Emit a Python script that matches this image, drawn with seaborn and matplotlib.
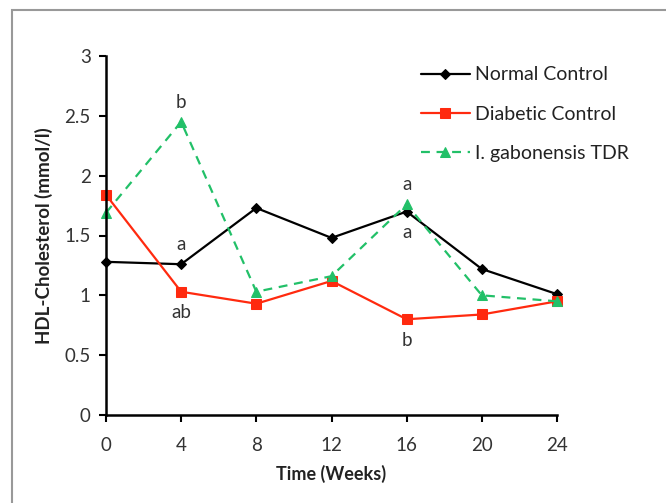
import matplotlib
matplotlib.use("Agg")
import matplotlib.pyplot as plt
import seaborn as sns
import pandas as pd
from matplotlib.patches import Rectangle

weeks = [0, 4, 8, 12, 16, 20, 24]
normal_control = [1.28, 1.26, 1.73, 1.48, 1.70, 1.22, 1.01]
diabetic_control = [1.84, 1.03, 0.93, 1.12, 0.80, 0.84, 0.95]
gabonensis_tdr = [1.69, 2.45, 1.03, 1.16, 1.76, 1.00, 0.95]
series_names = ["Normal Control", "Diabetic Control", "I. gabonensis TDR"]

# letters of significance: (week, value, text, above?)
sig_labels = [
    (4, 2.45, "b", True),
    (4, 1.26, "a", True),
    (4, 1.03, "ab", False),
    (16, 1.76, "a", True),
    (16, 1.70, "a", False),
    (16, 0.80, "b", False),
]

df = pd.DataFrame({
    "week": weeks * 3,
    "value": normal_control + diabetic_control + gabonensis_tdr,
    "group": [series_names[0]] * 7 + [series_names[1]] * 7 + [series_names[2]] * 7,
})

sns.set_style("white")
plt.rcParams["font.family"] = ["Lato", "DejaVu Sans"]

fig = plt.figure(figsize=(6.66, 5.03), dpi=100)
ax = fig.add_axes([106 / 666, 1 - 415 / 503, (557 - 106) / 666, (415 - 56) / 503])

palette = {series_names[0]: "black", series_names[1]: "#ff2a0f", series_names[2]: "#22c068"}
markers = {series_names[0]: "D", series_names[1]: "s", series_names[2]: "^"}
dashes = {series_names[0]: "", series_names[1]: "", series_names[2]: (4, 3)}
sizes = {series_names[0]: 5, series_names[1]: 7, series_names[2]: 7.5}

for name in series_names:
    sub = df[df["group"] == name]
    sns.lineplot(data=sub, x="week", y="value", ax=ax, color=palette[name],
                 marker=markers[name], markersize=sizes[name], markeredgecolor=palette[name],
                 linewidth=1.6, label=name)
    if dashes[name]:
        ax.lines[-1].set_dashes(dashes[name])

for x, y, txt, above in sig_labels:
    ax.annotate(txt, (x, y), xytext=(0, 8 if above else -9), textcoords="offset points",
                ha="center", va="bottom" if above else "top", fontsize=13.5, color="#333333")

ax.set_xlim(0, 24)
ax.set_ylim(0, 3)
ax.set_xticks(weeks)
ax.set_yticks([0, 0.5, 1, 1.5, 2, 2.5, 3])
ax.set_yticklabels(["0", "0.5", "1", "1.5", "2", "2.5", "3"])
ax.tick_params(axis="both", direction="out", length=5, width=1.5, labelsize=13.5,
               colors="black", labelcolor="#333333", bottom=True, left=True)
ax.tick_params(axis="x", pad=11)
ax.tick_params(axis="y", pad=6)
sns.despine(ax=ax)
for s in ["left", "bottom"]:
    ax.spines[s].set_linewidth(1.8)
    ax.spines[s].set_color("black")
ax.set_xlabel("Time (Weeks)", fontsize=13, fontweight="bold", color="#222222", labelpad=8)
ax.set_ylabel("HDL-Cholesterol (mmol/l)", fontsize=13.5, fontweight="bold", color="#222222", labelpad=8)
for ln in ax.lines:
    ln.set_clip_on(False)

leg = ax.legend(loc="upper left", bbox_to_anchor=(0.66, 1.02), frameon=False, fontsize=14,
                handlelength=2.5, labelspacing=1.15, handletextpad=0.25)
for t in leg.get_texts():
    t.set_color("#222222")

fig.patches.append(Rectangle((12 / 666, -0.1), 1.2, (1 - 10 / 503) + 0.1, transform=fig.transFigure,
                             fill=False, edgecolor="#999999", linewidth=1.5))

fig.savefig("out.png", dpi=100)
